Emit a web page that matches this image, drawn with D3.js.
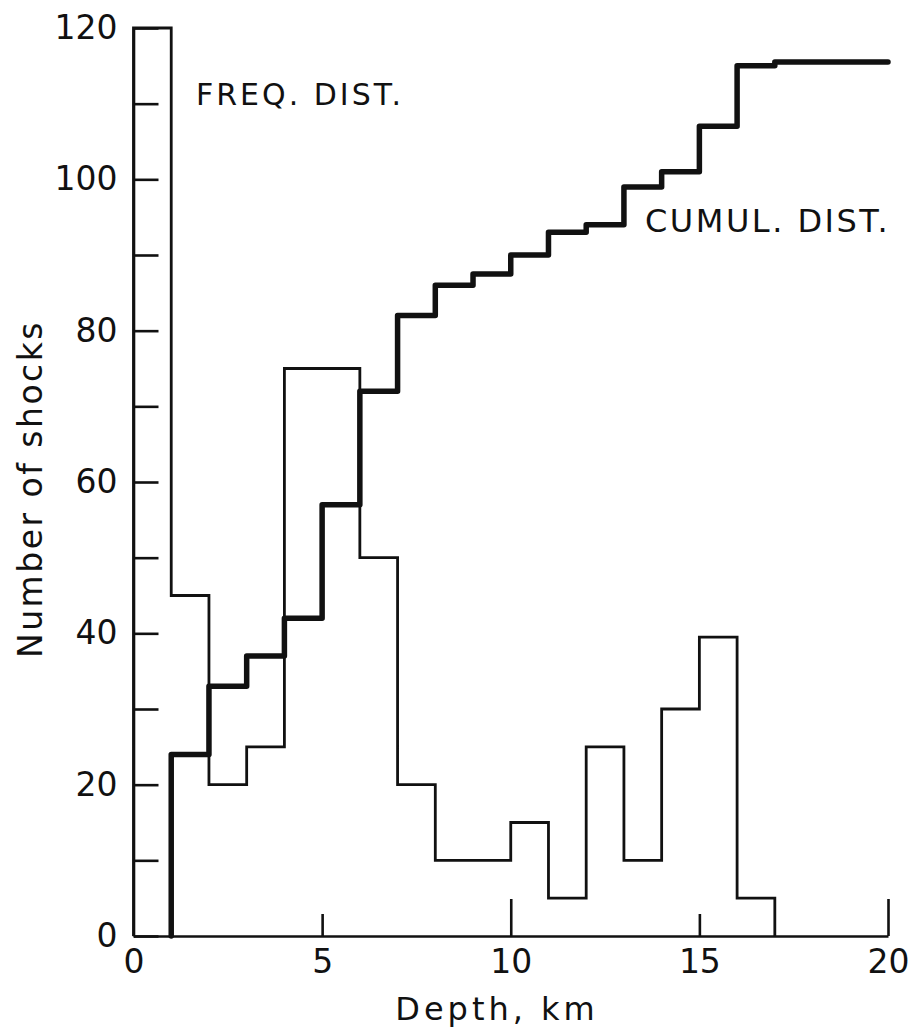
<!DOCTYPE html>
<html>
<head>
<meta charset="utf-8">
<script src="https://cdn.jsdelivr.net/npm/d3@7"></script>
<style>
  html, body { margin: 0; padding: 0; background: #fff; }
  svg { display: block; }
  text { font-family: "DejaVu Sans", sans-serif; fill: #111; }
</style>
</head>
<body>
<svg id="chart" width="912" height="1032"></svg>
<script>
// ---- data ----
const binEdges   = [0,1,2,3,4,5,6,7,8,9,10,11,12,13,14,15,16,17];
const freqCounts = [120,45,20,25,75,75,50,20,10,10,15,5,25,10,30,39.5,5];
const cumulEdges  = [1,2,3,4,5,6,7,8,9,10,11,12,13,14,15,16,17,20];
const cumulCounts = [24,33,37,42,57,72,82,86,87.5,90,93,94,99,101,107,115,115.5];
const xTicks = [0,5,10,15,20];
const yTicks = [0,10,20,30,40,50,60,70,80,90,100,110,120];
const yLabelTicks = [0,20,40,60,80,100,120];
const xTitle = "Depth, km";
const yTitle = "Number of shocks";
const freqLabel = "FREQ. DIST.";
const cumulLabel = "CUMUL. DIST.";

const svg = d3.select("#chart");
const x = d3.scaleLinear().domain([0,20]).range([133.5,888]);
const y = d3.scaleLinear().domain([0,120]).range([936,28]);

function stepPoints(edges, vals) {
  const pts = [[edges[0],0]];
  vals.forEach((v,i) => { pts.push([edges[i],v]); pts.push([edges[i+1],v]); });
  return pts;
}
const line = d3.line().x(d => x(d[0])).y(d => y(d[1]));

// axes
const yAxis = d3.axisLeft(y).tickValues(yTicks)
  .tickFormat(d => yLabelTicks.includes(d) ? d : "")
  .tickSizeInner(-25).tickSizeOuter(0).tickPadding(16);
const gy = svg.append("g").attr("transform", `translate(${x(0)},0)`).call(yAxis);

const xAxis = d3.axisBottom(x).tickValues(xTicks)
  .tickSizeInner(0).tickSizeOuter(0).tickPadding(14);
const gx = svg.append("g").attr("transform", `translate(0,${y(0)})`).call(xAxis);
gx.selectAll(".tick line").attr("y2", d => d === 0 ? 0 : (d % 10 === 0 ? -37 : -22));

[gx, gy].forEach(g => {
  g.selectAll("path.domain").attr("stroke", "#111").attr("stroke-width", 2.6);
  g.selectAll(".tick line").attr("stroke", "#111").attr("stroke-width", 2.6);
  g.selectAll(".tick text").style("font-family", "'DejaVu Sans', sans-serif")
    .style("font-size", "33px").attr("fill", "#111");
});

// frequency distribution (thin)
const fpts = stepPoints(binEdges, freqCounts);
fpts.push([binEdges[binEdges.length-1], 0]);
svg.append("path").attr("d", line(fpts))
  .attr("fill", "none").attr("stroke", "#111").attr("stroke-width", 2.8)
  .attr("stroke-linejoin", "miter");

// cumulative distribution (thick)
const cpts = stepPoints(cumulEdges, cumulCounts);
svg.append("path").attr("d", line(cpts))
  .attr("fill", "none").attr("stroke", "#111").attr("stroke-width", 5.5)
  .attr("stroke-linejoin", "round").attr("stroke-linecap", "round");

// labels
svg.append("text").attr("x", 196).attr("y", 105)
  .style("font-size", "30px").style("letter-spacing", "3px").text(freqLabel);
svg.append("text").attr("x", 645).attr("y", 232)
  .style("font-size", "32px").style("letter-spacing", "2.5px").text(cumulLabel);

svg.append("text").attr("x", 497).attr("y", 1020).attr("text-anchor", "middle")
  .style("font-size", "32px").style("letter-spacing", "4px").text(xTitle);
svg.append("text").attr("transform", "translate(42,489) rotate(-90)")
  .attr("text-anchor", "middle")
  .style("font-size", "33px").style("letter-spacing", "2.5px").text(yTitle);
</script>
</body>
</html>
